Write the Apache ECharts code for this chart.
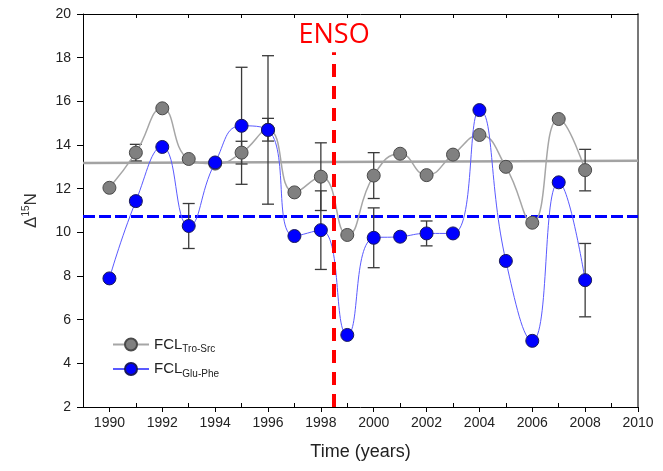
<!DOCTYPE html>
<html><head><meta charset="utf-8">
<script src="https://cdn.jsdelivr.net/npm/echarts@6/dist/echarts.min.js"></script>
<style>html,body{margin:0;padding:0;background:#fff}#c{width:663px;height:471px}</style>
</head><body><div id="c"></div>
<script>
const years      = [1990,1991,1992,1993,1994,1995,1996,1997,1998,1999,2000,2001,2002,2003,2004,2005,2006,2007,2008];
const troSrc     = [12.04,13.65,15.68,13.36,13.15,13.65,14.70,11.83,12.55,9.88,12.60,13.60,12.62,13.56,14.46,13.00,10.44,15.19,12.85];
const troSrcErr  = [0,0.38,0,0,0,0.52,0.52,0,1.55,0,1.05,0,0,0,0,0,0,0,0.95];
const gluPhe     = [7.89,11.43,13.91,10.29,13.20,14.88,14.69,9.83,10.10,5.30,9.75,9.80,9.95,9.95,15.60,8.69,5.03,12.29,7.81];
const gluPheErr  = [0,0.17,0,1.03,0,2.68,3.40,0,1.80,0,1.37,0,0.57,0,0,0,0,0,1.68];
const fitYears   = [1989, 2010];
const troSrcFit  = [13.17, 13.28];
const gluPheFit  = [10.72, 10.72];
const ensoYear   = 1998.5;
const ensoSpan   = [2, 18.25];
const xMajorTicks = [1990,1992,1994,1996,1998,2000,2002,2004,2006,2008,2010];
const xMinorTicks = [1991,1993,1995,1997,1999,2001,2003,2005,2007,2009];
const seriesNames = ['Tro-Src','Glu-Phe'];

const zip = (xs, ys) => xs.map((x, i) => [x, ys[i]]);
const errData = (vals, errs) => years.map((y, i) => [y, vals[i], errs[i]]).filter(d => d[2] > 0);

function errRender(params, api) {
  const x = api.value(0), y = api.value(1), e = api.value(2);
  const hi = api.coord([x, y + e]), lo = api.coord([x, y - e]);
  const w = 6;
  const st = {stroke: '#3a3a3a', lineWidth: 1.3};
  return {type: 'group', children: [
    {type: 'line', shape: {x1: hi[0], y1: hi[1], x2: lo[0], y2: lo[1]}, style: st},
    {type: 'line', shape: {x1: hi[0] - w, y1: hi[1], x2: hi[0] + w, y2: hi[1]}, style: st},
    {type: 'line', shape: {x1: lo[0] - w, y1: lo[1], x2: lo[0] + w, y2: lo[1]}, style: st}
  ]};
}

const chart = echarts.init(document.getElementById('c'));
const font = 'Liberation Sans, Arial, sans-serif';
chart.setOption({
  animation: false,
  backgroundColor: '#fff',
  textStyle: {fontFamily: font},
  grid: {left: 83, right: 25, top: 14, bottom: 64},
  legend: {
    orient: 'vertical', left: 107, top: 332, itemWidth: 36, itemHeight: 15, itemGap: 7,
    data: seriesNames,
    formatter: n => '{a|FCL}{b|' + n + '}',
    textStyle: {color: '#222', rich: {
      a: {fontSize: 15, lineHeight: 20, color: '#222', fontFamily: font, verticalAlign: 'middle'},
      b: {fontSize: 10, lineHeight: 10, color: '#222', fontFamily: font, verticalAlign: 'bottom'}
    }}
  },
  xAxis: [
    {type: 'value', position: 'bottom', min: 1989, max: 2010,
     axisLine: {lineStyle: {color: '#000', width: 1}},
     axisTick: {customValues: xMajorTicks, length: 5, lineStyle: {color: '#000'}},
     axisLabel: {customValues: xMajorTicks, fontSize: 14, color: '#222', margin: 9, formatter: v => String(v)},
     splitLine: {show: false},
     name: 'Time (years)', nameLocation: 'middle', nameGap: 36,
     nameTextStyle: {fontSize: 18, color: '#222'}},
    {type: 'value', position: 'bottom', min: 1989, max: 2010,
     axisLine: {show: false},
     axisTick: {customValues: xMinorTicks, inside: true, length: 4, lineStyle: {color: '#000'}},
     axisLabel: {show: false}, splitLine: {show: false}},
    {type: 'value', position: 'top', min: 1989, max: 2010,
     axisLine: {lineStyle: {color: '#000', width: 1}},
     axisTick: {customValues: xMinorTicks, inside: true, length: 4, lineStyle: {color: '#000'}},
     axisLabel: {show: false}, splitLine: {show: false}}
  ],
  yAxis: [
    {type: 'value', position: 'left', min: 2, max: 20, interval: 2,
     axisLine: {show: true, lineStyle: {color: '#000', width: 1}},
     axisTick: {show: true, length: 6, lineStyle: {color: '#000'}},
     axisLabel: {fontSize: 14, color: '#222', margin: 12},
     splitLine: {show: false},
     name: '{d|Δ}{s|15}{d|N}', nameLocation: 'middle', nameRotate: 90, nameGap: 42,
     nameTextStyle: {rich: {
       d: {fontSize: 17, lineHeight: 20, color: '#333', fontFamily: font},
       s: {fontSize: 10, lineHeight: 10, color: '#333', fontFamily: font, verticalAlign: 'top'}
     }}},
    {type: 'value', position: 'right', min: 2, max: 20,
     axisLine: {show: true, lineStyle: {color: '#777', width: 2}},
     axisTick: {show: false}, axisLabel: {show: false}, splitLine: {show: false}}
  ],
  series: [
    {name: 'fitTro', type: 'line', data: zip(fitYears, troSrcFit), symbol: 'none', silent: true,
     lineStyle: {color: '#a3a3a3', width: 2.5}, z: 2},
    {name: 'fitGlu', type: 'line', data: zip(fitYears, gluPheFit), symbol: 'none', silent: true,
     lineStyle: {color: '#0000ff', width: 3, type: [12, 4]}, z: 2},
    {name: 'errTro', type: 'custom', renderItem: errRender, data: errData(troSrc, troSrcErr), z: 3},
    {name: 'errGlu', type: 'custom', renderItem: errRender, data: errData(gluPhe, gluPheErr), z: 3},
    {name: seriesNames[0], type: 'line', data: zip(years, troSrc), smooth: 0.5,
     symbol: 'circle', symbolSize: 13,
     itemStyle: {color: '#808080', borderColor: '#4a4a4a', borderWidth: 1},
     lineStyle: {color: '#a6a6a6', width: 1.5}, z: 4},
    {name: seriesNames[1], type: 'line', data: zip(years, gluPhe), smooth: 0.5,
     symbol: 'circle', symbolSize: 13,
     itemStyle: {color: '#0000ff', borderColor: '#1a1a5a', borderWidth: 1},
     lineStyle: {color: '#5a5aff', width: 1}, z: 5},
    {name: 'enso', type: 'line', data: [], z: 6,
     markLine: {silent: true, symbol: 'none', z: 6,
       lineStyle: {color: '#ff0000', width: 4, type: [13, 9]},
       label: {show: true, position: 'end', formatter: 'ENSO', color: '#ff0000', fontSize: 27,
               fontFamily: 'Open Sans, sans-serif', distance: 3},
       data: [[{coord: [ensoYear, ensoSpan[0]]}, {coord: [ensoYear, ensoSpan[1]]}]]}}
  ]
});
</script></body></html>
